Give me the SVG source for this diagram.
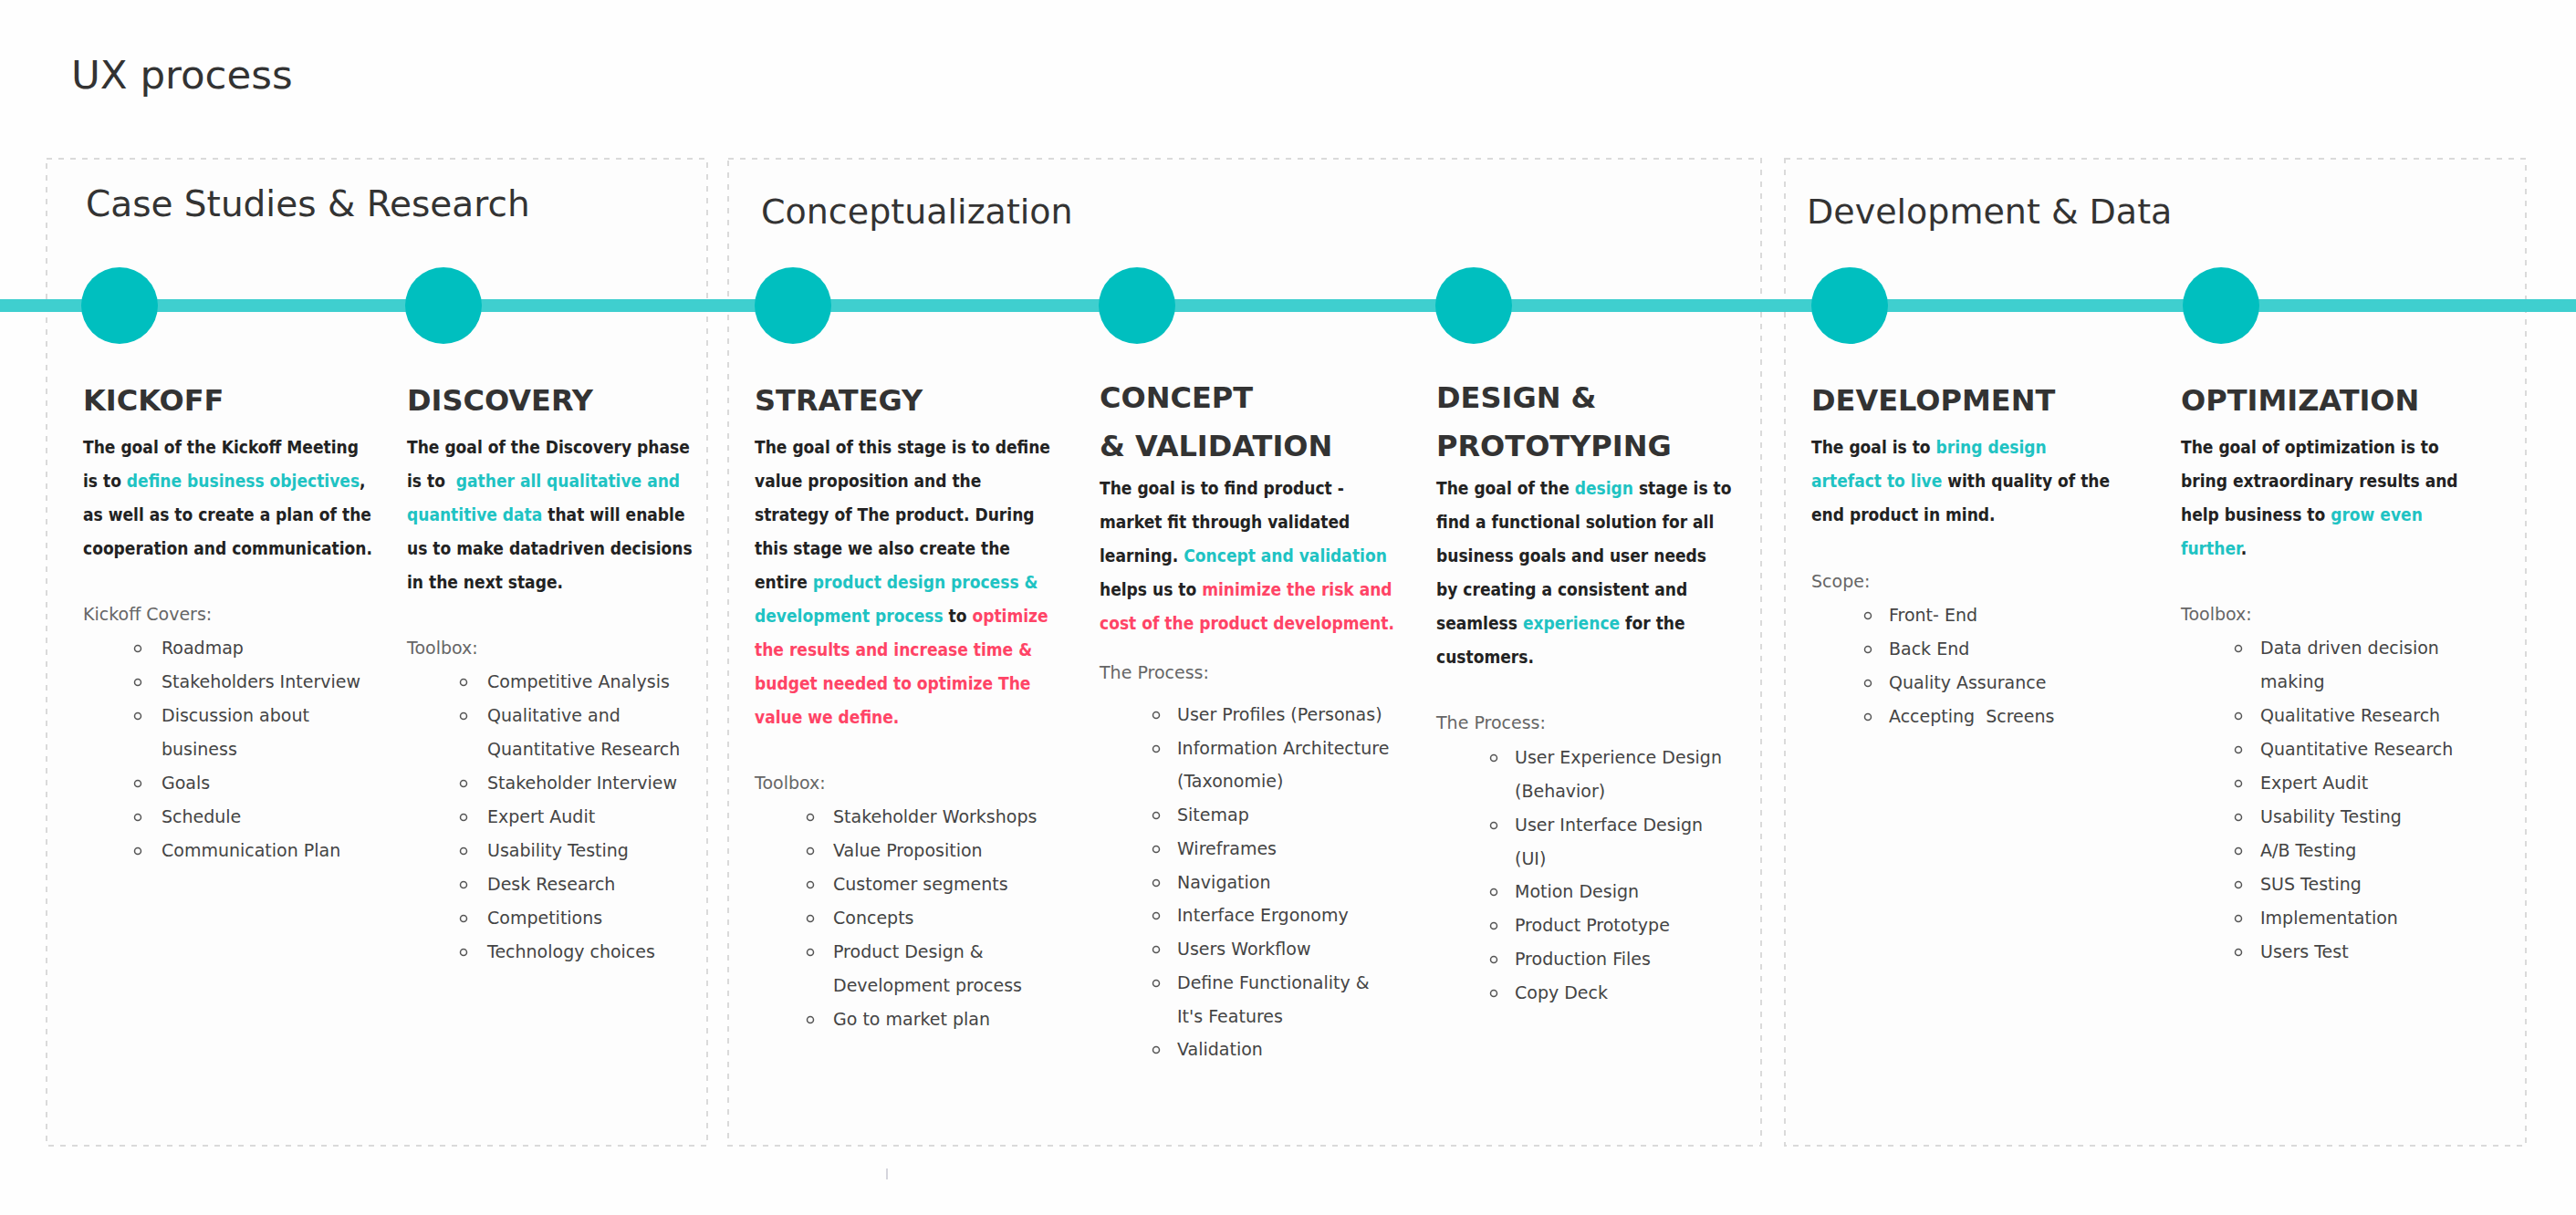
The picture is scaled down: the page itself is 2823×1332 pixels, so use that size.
<svg xmlns="http://www.w3.org/2000/svg" width="2823" height="1332" viewBox="0 0 2823 1332">
<style>
.bg{fill:#fefefe}
.box{fill:#fdfdfd;stroke:#dadada;stroke-width:2;stroke-dasharray:6 7}
.title{font-family:"DejaVu Sans",sans-serif;font-size:43.5px;fill:#333}
.sec{font-family:"DejaVu Sans",sans-serif;font-size:38px;fill:#333}
.sec1{font-size:39px}
.head{font-family:"DejaVu Sans",sans-serif;font-weight:bold;font-size:32px;fill:#333}
.body{font-family:"DejaVu Sans Condensed","DejaVu Sans",sans-serif;font-stretch:condensed;font-weight:bold;font-size:19px;fill:#222}
.lbl{font-family:"DejaVu Sans",sans-serif;font-size:19px;fill:#666}
.li{font-family:"DejaVu Sans",sans-serif;font-size:19px;fill:#444}
.t{fill:#1fc3c3}
.r{fill:#ff4466}
.bul{fill:none;stroke:#555;stroke-width:1.5}
.line{stroke:#3fcfcf;stroke-width:14;fill:none}
.dot{fill:#00bfbf}
</style>
<rect class="bg" x="0" y="0" width="2823" height="1332"/>
<text class="title" x="78" y="97">UX process</text>

<g id="phase-research">
<rect class="box" x="51" y="174" width="724" height="1082"/>
<text class="sec sec1" x="94" y="237">Case Studies &amp; Research</text>
</g>
<g id="phase-conceptualization">
<rect class="box" x="798" y="174" width="1132" height="1082"/>
<text class="sec" x="834" y="245">Conceptualization</text>
</g>
<g id="phase-development">
<rect class="box" x="1956" y="174" width="812" height="1082"/>
<text class="sec" x="1980" y="245">Development &amp; Data</text>
</g>
<rect x="971" y="1281" width="2" height="12" fill="#d5d5dc"/>

<g id="connectors">
<line class="line" x1="0" y1="335" x2="2823" y2="335"/>
</g>

<g id="kickoff">
<circle class="dot" cx="131" cy="335" r="42"/>
<text class="head" x="91" y="450">KICKOFF</text>
<text class="body" x="91" y="497">The goal of the Kickoff Meeting</text>
<text class="body" x="91" y="534">is to <tspan class="t">define business objectives</tspan>,</text>
<text class="body" x="91" y="571">as well as to create a plan of the</text>
<text class="body" x="91" y="608">cooperation and communication.</text>
<text class="lbl" x="91" y="680">Kickoff Covers:</text>
<circle class="bul" cx="151" cy="711" r="3.5"/><text class="li" x="177" y="717">Roadmap</text>
<circle class="bul" cx="151" cy="748" r="3.5"/><text class="li" x="177" y="754">Stakeholders Interview</text>
<circle class="bul" cx="151" cy="785" r="3.5"/><text class="li" x="177" y="791">Discussion about</text>
<text class="li" x="177" y="828">business</text>
<circle class="bul" cx="151" cy="859" r="3.5"/><text class="li" x="177" y="865">Goals</text>
<circle class="bul" cx="151" cy="896" r="3.5"/><text class="li" x="177" y="902">Schedule</text>
<circle class="bul" cx="151" cy="933" r="3.5"/><text class="li" x="177" y="939">Communication Plan</text>
</g>

<g id="discovery">
<circle class="dot" cx="486" cy="335" r="42"/>
<text class="head" x="446" y="450">DISCOVERY</text>
<text class="body" x="446" y="497">The goal of the Discovery phase</text>
<text class="body" x="446" y="534" xml:space="preserve">is to  <tspan class="t">gather all qualitative and</tspan></text>
<text class="body" x="446" y="571"><tspan class="t">quantitive data</tspan> that will enable</text>
<text class="body" x="446" y="608">us to make datadriven decisions</text>
<text class="body" x="446" y="645">in the next stage.</text>
<text class="lbl" x="446" y="717">Toolbox:</text>
<circle class="bul" cx="508" cy="748" r="3.5"/><text class="li" x="534" y="754">Competitive Analysis</text>
<circle class="bul" cx="508" cy="785" r="3.5"/><text class="li" x="534" y="791">Qualitative and</text>
<text class="li" x="534" y="828">Quantitative Research</text>
<circle class="bul" cx="508" cy="859" r="3.5"/><text class="li" x="534" y="865">Stakeholder Interview</text>
<circle class="bul" cx="508" cy="896" r="3.5"/><text class="li" x="534" y="902">Expert Audit</text>
<circle class="bul" cx="508" cy="933" r="3.5"/><text class="li" x="534" y="939">Usability Testing</text>
<circle class="bul" cx="508" cy="970" r="3.5"/><text class="li" x="534" y="976">Desk Research</text>
<circle class="bul" cx="508" cy="1007" r="3.5"/><text class="li" x="534" y="1013">Competitions</text>
<circle class="bul" cx="508" cy="1044" r="3.5"/><text class="li" x="534" y="1050">Technology choices</text>
</g>

<g id="strategy">
<circle class="dot" cx="869" cy="335" r="42"/>
<text class="head" x="827" y="450">STRATEGY</text>
<text class="body" x="827" y="497">The goal of this stage is to define</text>
<text class="body" x="827" y="534">value proposition and the</text>
<text class="body" x="827" y="571">strategy of The product. During</text>
<text class="body" x="827" y="608">this stage we also create the</text>
<text class="body" x="827" y="645">entire <tspan class="t">product design process &amp;</tspan></text>
<text class="body" x="827" y="682"><tspan class="t">development process</tspan> to <tspan class="r">optimize</tspan></text>
<text class="body r" x="827" y="719">the results and increase time &amp;</text>
<text class="body r" x="827" y="756">budget needed to optimize The</text>
<text class="body r" x="827" y="793">value we define.</text>
<text class="lbl" x="827" y="865">Toolbox:</text>
<circle class="bul" cx="888" cy="896" r="3.5"/><text class="li" x="913" y="902">Stakeholder Workshops</text>
<circle class="bul" cx="888" cy="933" r="3.5"/><text class="li" x="913" y="939">Value Proposition</text>
<circle class="bul" cx="888" cy="970" r="3.5"/><text class="li" x="913" y="976">Customer segments</text>
<circle class="bul" cx="888" cy="1007" r="3.5"/><text class="li" x="913" y="1013">Concepts</text>
<circle class="bul" cx="888" cy="1044" r="3.5"/><text class="li" x="913" y="1050">Product Design &amp;</text>
<text class="li" x="913" y="1087">Development process</text>
<circle class="bul" cx="888" cy="1118" r="3.5"/><text class="li" x="913" y="1124">Go to market plan</text>
</g>

<g id="concept-validation">
<circle class="dot" cx="1246" cy="335" r="42"/>
<text class="head" x="1205" y="447">CONCEPT</text>
<text class="head" x="1205" y="500">&amp; VALIDATION</text>
<text class="body" x="1205" y="542">The goal is to find product -</text>
<text class="body" x="1205" y="579">market fit through validated</text>
<text class="body" x="1205" y="616">learning. <tspan class="t">Concept and validation</tspan></text>
<text class="body" x="1205" y="653">helps us to <tspan class="r">minimize the risk and</tspan></text>
<text class="body r" x="1205" y="690">cost of the product development.</text>
<text class="lbl" x="1205" y="744">The Process:</text>
<circle class="bul" cx="1267" cy="784" r="3.5"/><text class="li" x="1290" y="790">User Profiles (Personas)</text>
<circle class="bul" cx="1267" cy="821" r="3.5"/><text class="li" x="1290" y="827">Information Architecture</text>
<text class="li" x="1290" y="863">(Taxonomie)</text>
<circle class="bul" cx="1267" cy="894" r="3.5"/><text class="li" x="1290" y="900">Sitemap</text>
<circle class="bul" cx="1267" cy="931" r="3.5"/><text class="li" x="1290" y="937">Wireframes</text>
<circle class="bul" cx="1267" cy="968" r="3.5"/><text class="li" x="1290" y="974">Navigation</text>
<circle class="bul" cx="1267" cy="1004" r="3.5"/><text class="li" x="1290" y="1010">Interface Ergonomy</text>
<circle class="bul" cx="1267" cy="1041" r="3.5"/><text class="li" x="1290" y="1047">Users Workflow</text>
<circle class="bul" cx="1267" cy="1078" r="3.5"/><text class="li" x="1290" y="1084">Define Functionality &amp;</text>
<text class="li" x="1290" y="1121">It's Features</text>
<circle class="bul" cx="1267" cy="1151" r="3.5"/><text class="li" x="1290" y="1157">Validation</text>
</g>

<g id="design-prototyping">
<circle class="dot" cx="1615" cy="335" r="42"/>
<text class="head" x="1574" y="447">DESIGN &amp;</text>
<text class="head" x="1574" y="500">PROTOTYPING</text>
<text class="body" x="1574" y="542">The goal of the <tspan class="t">design</tspan> stage is to</text>
<text class="body" x="1574" y="579">find a functional solution for all</text>
<text class="body" x="1574" y="616">business goals and user needs</text>
<text class="body" x="1574" y="653">by creating a consistent and</text>
<text class="body" x="1574" y="690">seamless <tspan class="t">experience</tspan> for the</text>
<text class="body" x="1574" y="727">customers.</text>
<text class="lbl" x="1574" y="799">The Process:</text>
<circle class="bul" cx="1637" cy="831" r="3.5"/><text class="li" x="1660" y="837">User Experience Design</text>
<text class="li" x="1660" y="874">(Behavior)</text>
<circle class="bul" cx="1637" cy="905" r="3.5"/><text class="li" x="1660" y="911">User Interface Design</text>
<text class="li" x="1660" y="948">(UI)</text>
<circle class="bul" cx="1637" cy="978" r="3.5"/><text class="li" x="1660" y="984">Motion Design</text>
<circle class="bul" cx="1637" cy="1015" r="3.5"/><text class="li" x="1660" y="1021">Product Prototype</text>
<circle class="bul" cx="1637" cy="1052" r="3.5"/><text class="li" x="1660" y="1058">Production Files</text>
<circle class="bul" cx="1637" cy="1089" r="3.5"/><text class="li" x="1660" y="1095">Copy Deck</text>
</g>

<g id="development">
<circle class="dot" cx="2027" cy="335" r="42"/>
<text class="head" x="1985" y="450">DEVELOPMENT</text>
<text class="body" x="1985" y="497">The goal is to <tspan class="t">bring design</tspan></text>
<text class="body" x="1985" y="534"><tspan class="t">artefact to live</tspan> with quality of the</text>
<text class="body" x="1985" y="571">end product in mind.</text>
<text class="lbl" x="1985" y="644">Scope:</text>
<circle class="bul" cx="2047" cy="675" r="3.5"/><text class="li" x="2070" y="681">Front- End</text>
<circle class="bul" cx="2047" cy="712" r="3.5"/><text class="li" x="2070" y="718">Back End</text>
<circle class="bul" cx="2047" cy="749" r="3.5"/><text class="li" x="2070" y="755">Quality Assurance</text>
<circle class="bul" cx="2047" cy="786" r="3.5"/><text class="li" x="2070" y="792" xml:space="preserve">Accepting  Screens</text>
</g>

<g id="optimization">
<circle class="dot" cx="2434" cy="335" r="42"/>
<text class="head" x="2390" y="450">OPTIMIZATION</text>
<text class="body" x="2390" y="497">The goal of optimization is to</text>
<text class="body" x="2390" y="534">bring extraordinary results and</text>
<text class="body" x="2390" y="571">help business to <tspan class="t">grow even</tspan></text>
<text class="body" x="2390" y="608"><tspan class="t">further</tspan>.</text>
<text class="lbl" x="2390" y="680">Toolbox:</text>
<circle class="bul" cx="2453" cy="711" r="3.5"/><text class="li" x="2477" y="717">Data driven decision</text>
<text class="li" x="2477" y="754">making</text>
<circle class="bul" cx="2453" cy="785" r="3.5"/><text class="li" x="2477" y="791">Qualitative Research</text>
<circle class="bul" cx="2453" cy="822" r="3.5"/><text class="li" x="2477" y="828">Quantitative Research</text>
<circle class="bul" cx="2453" cy="859" r="3.5"/><text class="li" x="2477" y="865">Expert Audit</text>
<circle class="bul" cx="2453" cy="896" r="3.5"/><text class="li" x="2477" y="902">Usability Testing</text>
<circle class="bul" cx="2453" cy="933" r="3.5"/><text class="li" x="2477" y="939">A/B Testing</text>
<circle class="bul" cx="2453" cy="970" r="3.5"/><text class="li" x="2477" y="976">SUS Testing</text>
<circle class="bul" cx="2453" cy="1007" r="3.5"/><text class="li" x="2477" y="1013">Implementation</text>
<circle class="bul" cx="2453" cy="1044" r="3.5"/><text class="li" x="2477" y="1050">Users Test</text>
</g>
</svg>
